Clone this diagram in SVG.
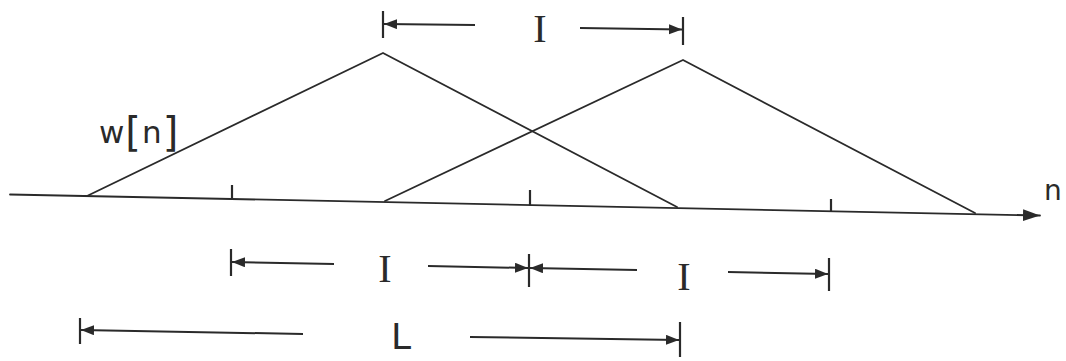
<svg xmlns="http://www.w3.org/2000/svg" width="1066" height="361" viewBox="0 0 1066 361">
  <defs>
    <style>
      .ln { stroke: #2a2a2a; stroke-width: 1.8; fill: none; stroke-linecap: round; stroke-linejoin: round; }
      .tk { stroke: #2a2a2a; stroke-width: 2.2; fill: none; }
      .dim { stroke: #2a2a2a; stroke-width: 2; fill: none; marker-end: url(#ah); }
      .sym { font-family: "Liberation Serif", serif; font-size: 40px; fill: #2a2a2a; text-anchor: middle; }
      .lab { font-family: "DejaVu Sans", "Liberation Sans", sans-serif; fill: #2a2a2a; }
    </style>
    <marker id="ah" markerUnits="userSpaceOnUse" markerWidth="14" markerHeight="12" refX="13" refY="5" orient="auto">
      <path d="M0,0 L13,5 L0,10 z" fill="#2a2a2a"/>
    </marker>
    <marker id="axh" markerUnits="userSpaceOnUse" markerWidth="18" markerHeight="14" refX="17" refY="6" orient="auto">
      <path d="M0,0 L17,6 L0,12 z" fill="#2a2a2a"/>
    </marker>
  </defs>
  <rect width="1066" height="361" fill="#ffffff"/>

  <g id="axis">
    <line class="ln" x1="10" y1="194.5" x2="1040" y2="215.5" marker-end="url(#axh)"/>
    <line class="tk" x1="232" y1="185" x2="232" y2="199.5"/>
    <line class="tk" x1="530" y1="190" x2="530" y2="205.5"/>
    <line class="tk" x1="831" y1="199" x2="831" y2="211.5"/>
    <text class="lab" x="1044" y="200" font-size="28">n</text>
  </g>

  <g id="window1">
    <polyline class="ln" points="87,196 383,53 677,207"/>
    <text class="lab" x="99" y="143" font-size="31" letter-spacing="1">w<tspan font-size="40" dy="3">[</tspan><tspan dy="-3">n</tspan><tspan font-size="40" dy="3">]</tspan></text>
  </g>

  <g id="window2">
    <polyline class="ln" points="385,201 683,60 975,213"/>
  </g>

  <g id="dim-top">
    <line class="tk" x1="383" y1="11" x2="383" y2="38"/>
    <line class="dim" x1="475" y1="25" x2="384" y2="24"/>
    <text class="sym" x="540" y="42">I</text>
    <line class="dim" x1="580" y1="28" x2="682" y2="29.5"/>
    <line class="tk" x1="683" y1="17" x2="683" y2="45"/>
  </g>

  <g id="dim-mid">
    <line class="tk" x1="231" y1="249" x2="231" y2="276"/>
    <line class="dim" x1="334" y1="264" x2="232" y2="262"/>
    <text class="sym" x="385" y="282">I</text>
    <line class="dim" x1="428" y1="266" x2="528" y2="268"/>
    <line class="tk" x1="529" y1="254" x2="529" y2="287"/>
    <line class="dim" x1="637" y1="270" x2="530" y2="268"/>
    <text class="sym" x="684" y="290">I</text>
    <line class="dim" x1="728" y1="272" x2="828" y2="274"/>
    <line class="tk" x1="829" y1="258" x2="829" y2="291"/>
  </g>

  <g id="dim-bottom">
    <line class="tk" x1="80" y1="318" x2="80" y2="344"/>
    <line class="dim" x1="303" y1="334" x2="81" y2="330"/>
    <text class="lab" x="391" y="349" font-size="36">L</text>
    <line class="dim" x1="470" y1="337" x2="679" y2="340"/>
    <line class="tk" x1="680" y1="322" x2="680" y2="357"/>
  </g>
</svg>
